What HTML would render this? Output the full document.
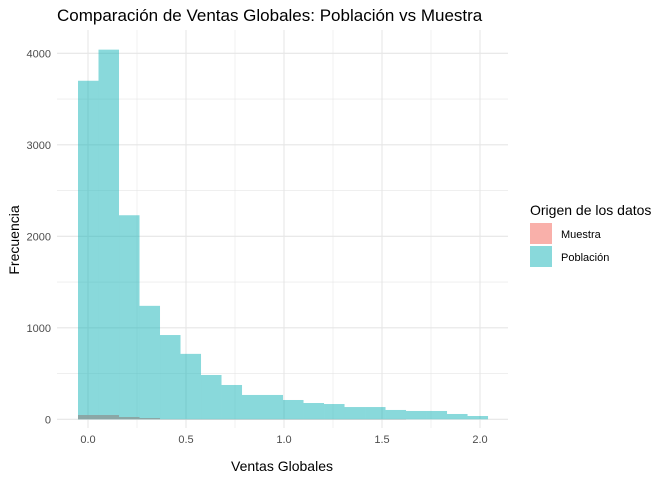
<!DOCTYPE html>
<html><head><meta charset="utf-8"><style>
body{margin:0;background:#fff;font-family:"Liberation Sans",sans-serif}
</style></head><body>
<svg id="c" width="672" height="480" xmlns="http://www.w3.org/2000/svg">
<text x="57" y="21" font-size="17" fill="#000">Comparación de Ventas Globales: Población vs Muestra</text>
<g id="grid"></g><g id="bars"></g><g id="axes"></g>
<text x="282" y="471" font-size="14" text-anchor="middle">Ventas Globales</text>
<text transform="translate(19,240) rotate(-90)" font-size="14" text-anchor="middle">Frecuencia</text>
<text x="530" y="215" font-size="14">Origen de los datos</text>
<rect x="530" y="223" width="22" height="21" fill="#F9B0AA"/>
<text x="561" y="238" font-size="11">Muestra</text>
<rect x="530" y="246" width="22" height="21" fill="#89D9DB"/>
<text x="561" y="261" font-size="11">Población</text>
</svg>
<script>
const binStart=-0.051, binWidth=0.1046;
const poblacion=[3700,4040,2230,1240,921,715,484,375,266,266,211,178,167,134,134,102,91,91,58,36];
const muestra=[47,47,25,14,3,3,3,3,3,3,3,3,3,3,3,3,0,0,0,0];
const xTicks=[0,0.5,1,1.5,2], xTickLabels=["0.0","0.5","1.0","1.5","2.0"];
const yTicks=[0,1000,2000,3000,4000], yTickLabels=["0","1000","2000","3000","4000"];
const NS="http://www.w3.org/2000/svg";
const X=v=>88+v*196, Y=v=>419.3-v*0.0915;
function mk(t,a,p){const e=document.createElementNS(NS,t);for(const k in a)e.setAttribute(k,a[k]);p.appendChild(e);return e;}
const g=document.getElementById('grid'),b=document.getElementById('bars'),ax=document.getElementById('axes');
for(let i=0;i<=8;i++){const v=i*0.25;const l=mk('line',{x1:X(v),x2:X(v),y1:30,y2:428,stroke:'#e6e6e6','stroke-width':i%2?0.6:1.1},g);

}
for(let i=0;i<=8;i++){const v=i*500;const l=mk('line',{x1:57,x2:508,y1:Y(v),y2:Y(v),stroke:'#e6e6e6','stroke-width':i%2?0.6:1.1},g);

}
poblacion.forEach((v,i)=>{const x0=X(binStart+i*binWidth),x1=X(binStart+(i+1)*binWidth);
const r=mk('rect',{x:x0,y:Y(v),width:x1-x0,height:Y(0)-Y(v),fill:'#13B3B7','fill-opacity':0.5},b);

});
muestra.forEach((v,i)=>{if(!v)return;const x0=X(binStart+i*binWidth),x1=X(binStart+(i+1)*binWidth);
const r=mk('rect',{x:x0,y:Y(v),width:x1-x0,height:Y(0)-Y(v),fill:'#8C9E9C','fill-opacity':0.85},b);

});
xTicks.forEach((v,i)=>{const t=mk('text',{x:X(v),y:443,'font-size':11,fill:'#4d4d4d','text-anchor':'middle'},ax);t.textContent=xTickLabels[i];

});
yTicks.forEach((v,i)=>{const t=mk('text',{x:51,y:Y(v)+4,'font-size':11,fill:'#4d4d4d','text-anchor':'end'},ax);t.textContent=yTickLabels[i];

});
</script>
</body></html>
